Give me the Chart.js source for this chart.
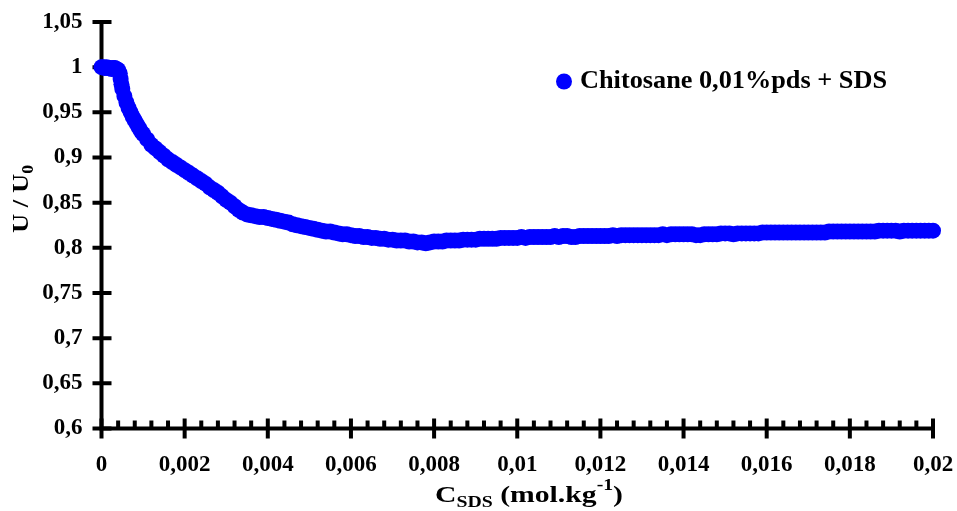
<!DOCTYPE html>
<html>
<head>
<meta charset="utf-8">
<script src="https://cdn.jsdelivr.net/npm/chart.js@4/dist/chart.umd.min.js"></script>
<style>
  html, body { margin: 0; padding: 0; background: #ffffff; }
  #wrap { width: 957px; height: 511px; }
</style>
</head>
<body>
<div id="wrap"><canvas id="c" width="957" height="511"></canvas></div>
<script>
// ---- Data ----
const seriesLabel = 'Chitosane 0,01%pds + SDS';
const xTitleParts = ['C', 'SDS', ' (mol.kg', '-1', ')'];
const yTitleParts = ['U / U', '0'];

const cSDS = [
  0, 0.00004, 0.00008, 0.00012, 0.00016, 0.0002, 0.00024, 0.00028, 0.00032, 0.00036, 0.0004,
  0.00044, 0.00046, 0.00048, 0.0005, 0.00055, 0.0006, 0.00065, 0.0007, 0.00075, 0.0008,
  0.00085, 0.0009, 0.00095,
  0.0010, 0.0011, 0.0012, 0.0013, 0.0014, 0.0015, 0.0016, 0.0017, 0.0018, 0.0019,
  0.0020, 0.0021, 0.0022, 0.0023, 0.0024, 0.0025, 0.0026, 0.0027, 0.0028, 0.0029,
  0.0030, 0.0031, 0.0032, 0.0033, 0.0034, 0.0035, 0.0036, 0.0037, 0.0038, 0.0039,
  0.0040, 0.0041, 0.0042, 0.0043, 0.0044, 0.0045, 0.0046, 0.0047, 0.0048, 0.0049,
  0.0050, 0.0051, 0.0052, 0.0053, 0.0054, 0.0055, 0.0056, 0.0057, 0.0058, 0.0059,
  0.0060, 0.0061, 0.0062, 0.0063, 0.0064, 0.0065, 0.0066, 0.0067, 0.0068, 0.0069,
  0.0070, 0.0071, 0.0072, 0.0073, 0.0074, 0.0075, 0.0076, 0.0077, 0.0078, 0.0079,
  0.0080, 0.0081, 0.0082, 0.0083, 0.0084, 0.0085, 0.0086, 0.0087, 0.0088, 0.0089,
  0.0090, 0.0091, 0.0092, 0.0093, 0.0094, 0.0095, 0.0096, 0.0097, 0.0098, 0.0099,
  0.0100, 0.0101, 0.0102, 0.0103, 0.0104, 0.0105, 0.0106, 0.0107, 0.0108, 0.0109,
  0.0110, 0.0111, 0.0112, 0.0113, 0.0114, 0.0115, 0.0116, 0.0117, 0.0118, 0.0119,
  0.0120, 0.0121, 0.0122, 0.0123, 0.0124, 0.0125, 0.0126, 0.0127, 0.0128, 0.0129,
  0.0130, 0.0131, 0.0132, 0.0133, 0.0134, 0.0135, 0.0136, 0.0137, 0.0138, 0.0139,
  0.0140, 0.0141, 0.0142, 0.0143, 0.0144, 0.0145, 0.0146, 0.0147, 0.0148, 0.0149,
  0.0150, 0.0151, 0.0152, 0.0153, 0.0154, 0.0155, 0.0156, 0.0157, 0.0158, 0.0159,
  0.0160, 0.0161, 0.0162, 0.0163, 0.0164, 0.0165, 0.0166, 0.0167, 0.0168, 0.0169,
  0.0170, 0.0171, 0.0172, 0.0173, 0.0174, 0.0175, 0.0176, 0.0177, 0.0178, 0.0179,
  0.0180, 0.0181, 0.0182, 0.0183, 0.0184, 0.0185, 0.0186, 0.0187, 0.0188, 0.0189,
  0.0190, 0.0191, 0.0192, 0.0193, 0.0194, 0.0195, 0.0196, 0.0197, 0.0198, 0.0199,
  0.0200
];
const uRatio = [
  1.000, 1.000, 0.999, 1.000, 0.999, 0.999, 0.998, 0.999, 0.999, 0.998, 0.997,
  0.993, 0.987, 0.981, 0.976, 0.968, 0.961, 0.955, 0.950, 0.945, 0.941,
  0.937, 0.933, 0.929,
  0.926, 0.920, 0.914, 0.910, 0.906, 0.902, 0.898, 0.895, 0.892, 0.889,
  0.886, 0.883, 0.880, 0.877, 0.874, 0.871, 0.867, 0.864, 0.861, 0.857,
  0.853, 0.850, 0.846, 0.842, 0.839, 0.837, 0.836, 0.835, 0.834, 0.834,
  0.833, 0.832, 0.831, 0.830, 0.829, 0.828, 0.826, 0.825, 0.824, 0.823,
  0.822, 0.821, 0.820, 0.819, 0.818, 0.818, 0.817, 0.816, 0.815, 0.815,
  0.814, 0.813, 0.813, 0.812, 0.812, 0.811, 0.811, 0.810, 0.810, 0.809,
  0.809, 0.808, 0.808, 0.808, 0.807, 0.807, 0.806, 0.806, 0.805, 0.806,
  0.807, 0.807, 0.807, 0.808, 0.808, 0.808, 0.808, 0.809, 0.809, 0.809,
  0.809, 0.810, 0.810, 0.810, 0.810, 0.810, 0.811, 0.811, 0.811, 0.811,
  0.811, 0.812, 0.811, 0.812, 0.812, 0.812, 0.812, 0.812, 0.812, 0.813,
  0.812, 0.813, 0.813, 0.812, 0.812, 0.813, 0.813, 0.813, 0.813, 0.813,
  0.813, 0.813, 0.813, 0.814, 0.813, 0.814, 0.814, 0.814, 0.814, 0.814,
  0.814, 0.814, 0.814, 0.814, 0.814, 0.815, 0.814, 0.815, 0.815, 0.815,
  0.815, 0.815, 0.815, 0.814, 0.814, 0.815, 0.815, 0.815, 0.815, 0.816,
  0.816, 0.816, 0.815, 0.816, 0.816, 0.816, 0.816, 0.816, 0.816, 0.817,
  0.817, 0.817, 0.817, 0.817, 0.817, 0.817, 0.817, 0.817, 0.817, 0.817,
  0.817, 0.817, 0.817, 0.817, 0.817, 0.818, 0.818, 0.818, 0.818, 0.818,
  0.818, 0.818, 0.818, 0.818, 0.818, 0.818, 0.818, 0.819, 0.819, 0.819,
  0.819, 0.819, 0.818, 0.819, 0.819, 0.819, 0.819, 0.819, 0.819, 0.819,
  0.819
];
const xTickLabels = ['0', '0,002', '0,004', '0,006', '0,008', '0,01', '0,012', '0,014', '0,016', '0,018', '0,02'];
const yTickLabels = ['0,6', '0,65', '0,7', '0,75', '0,8', '0,85', '0,9', '0,95', '1', '1,05'];

const X_MIN = 0, X_MAX = 0.02, X_STEP = 0.002, X_MINOR = 0.0004;
const Y_MIN = 0.6, Y_MAX = 1.05, Y_STEP = 0.05;

const FONT = '"Liberation Serif", "Times New Roman", serif';

const points = cSDS.map((x, i) => ({ x: x, y: uRatio[i] }));

// ---- axes (crossing major ticks, upward minor ticks) ----
const axesPlugin = {
  id: 'axesPlugin',
  beforeDatasetsDraw(chart) {
    const ctx = chart.ctx;
    const xs = chart.scales.x, ys = chart.scales.y;
    const x0 = xs.getPixelForValue(X_MIN), x1 = xs.getPixelForValue(X_MAX);
    const y0 = ys.getPixelForValue(Y_MIN), y1 = ys.getPixelForValue(Y_MAX);
    ctx.save();
    ctx.strokeStyle = '#000';
    ctx.lineWidth = 4;
    ctx.lineCap = 'butt';
    ctx.beginPath();
    ctx.moveTo(x0, y1); ctx.lineTo(x0, y0 + 2);
    ctx.moveTo(x0 - 2, y0); ctx.lineTo(x1 + 2, y0);
    ctx.stroke();
    ctx.beginPath();
    for (let i = 0; i < yTickLabels.length; i++) {
      const py = ys.getPixelForValue(Y_MIN + i * Y_STEP);
      ctx.moveTo(x0 - 9, py); ctx.lineTo(x0 + 10, py);
    }
    for (let i = 0; i < xTickLabels.length; i++) {
      const px = xs.getPixelForValue(X_MIN + i * X_STEP);
      ctx.moveTo(px, y0 - 10); ctx.lineTo(px, y0 + 10);
    }
    ctx.stroke();
    ctx.beginPath();
    const nMinor = Math.round((X_MAX - X_MIN) / X_MINOR);
    for (let i = 0; i <= nMinor; i++) {
      if (i % 5 === 0) continue;
      const px = xs.getPixelForValue(X_MIN + i * X_MINOR);
      ctx.moveTo(px, y0); ctx.lineTo(px, y0 - 8);
    }
    ctx.stroke();
    ctx.restore();
  }
};

function drawParts(ctx, parts, targetWidth) {
  let total = 0;
  parts.forEach(p => { ctx.font = 'bold ' + p.size + 'px ' + FONT; p.w = ctx.measureText(p.t).width; total += p.w; });
  const s = targetWidth / total;
  ctx.scale(s, 1);
  let x = 0;
  parts.forEach(p => {
    ctx.font = 'bold ' + p.size + 'px ' + FONT;
    ctx.fillText(p.t, x, p.dy);
    x += p.w;
  });
}

const textPlugin = {
  id: 'textPlugin',
  afterDraw(chart) {
    const ctx = chart.ctx;
    ctx.save();
    ctx.fillStyle = '#000';
    ctx.textBaseline = 'alphabetic';
    ctx.textAlign = 'left';
    // X title
    ctx.save();
    ctx.translate(435, 502);
    drawParts(ctx, [
      { t: xTitleParts[0], size: 24, dy: 0 },
      { t: xTitleParts[1], size: 16, dy: 5 },
      { t: xTitleParts[2], size: 24, dy: 0 },
      { t: xTitleParts[3], size: 16, dy: -12 },
      { t: xTitleParts[4], size: 24, dy: 0 }
    ], 188);
    ctx.restore();
    // Y title
    ctx.save();
    ctx.translate(28, 233);
    ctx.rotate(-Math.PI / 2);
    drawParts(ctx, [
      { t: yTitleParts[0], size: 24, dy: 0 },
      { t: yTitleParts[1], size: 16, dy: 5 }
    ], 68);
    ctx.restore();
    // Legend
    ctx.beginPath();
    ctx.fillStyle = '#0000FF';
    ctx.arc(564, 81.5, 8, 0, Math.PI * 2);
    ctx.fill();
    ctx.fillStyle = '#000';
    ctx.save();
    ctx.translate(580, 88);
    drawParts(ctx, [{ t: seriesLabel, size: 25, dy: 0 }], 307);
    ctx.restore();
    ctx.restore();
  }
};

const zeroPad = (s) => { s.paddingLeft = 0; s.paddingRight = 0; s.paddingTop = 0; s.paddingBottom = 0; };

new Chart(document.getElementById('c'), {
  type: 'scatter',
  data: {
    datasets: [{
      label: seriesLabel,
      data: points,
      showLine: false,
      pointRadius: 8,
      pointHoverRadius: 8,
      pointBackgroundColor: '#0000FF',
      pointBorderColor: '#0000FF',
      pointBorderWidth: 0,
      clip: false
    }]
  },
  options: {
    responsive: false,
    devicePixelRatio: 1,
    animation: false,
    events: [],
    layout: { padding: { top: 22, right: 24, left: 0, bottom: 0 } },
    plugins: {
      legend: { display: false },
      tooltip: { enabled: false }
    },
    scales: {
      x: {
        type: 'linear',
        min: X_MIN, max: X_MAX,
        grid: { display: false, drawTicks: false },
        border: { display: false },
        ticks: {
          stepSize: X_STEP,
          autoSkip: false,
          maxRotation: 0,
          padding: 23,
          color: '#000',
          font: { family: FONT, size: 23, weight: 'bold' },
          callback: (v) => xTickLabels[Math.round((v - X_MIN) / X_STEP)]
        },
        afterFit: (s) => { s.height = 82.5; zeroPad(s); }
      },
      y: {
        type: 'linear',
        min: Y_MIN, max: Y_MAX,
        grid: { display: false, drawTicks: false },
        border: { display: false },
        ticks: {
          stepSize: Y_STEP,
          autoSkip: false,
          padding: 19,
          color: '#000',
          font: { family: FONT, size: 23, weight: 'bold' },
          callback: (v) => yTickLabels[Math.round((v - Y_MIN) / Y_STEP)]
        },
        afterFit: (s) => { s.width = 101.5; zeroPad(s); }
      }
    }
  },
  plugins: [axesPlugin, textPlugin]
});
</script>
</body>
</html>
